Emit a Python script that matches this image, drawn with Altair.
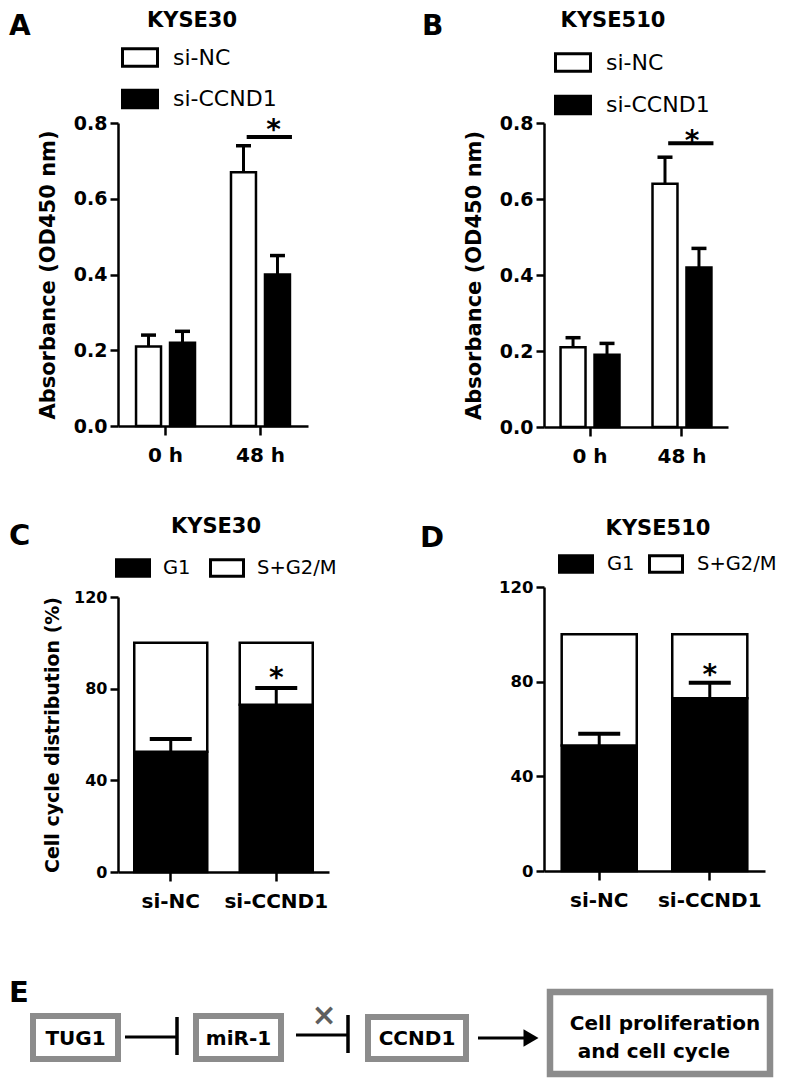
import altair as alt
import pandas as pd

# ---------------- data ----------------
times = ["0 h", "48 h"]
groups_ab = ["si-NC", "si-CCND1"]
a_nc = [0.21, 0.67]
a_nc_err = [0.03, 0.07]
a_cc = [0.22, 0.40]
a_cc_err = [0.03, 0.05]
b_nc = [0.21, 0.64]
b_nc_err = [0.025, 0.07]
b_cc = [0.19, 0.42]
b_cc_err = [0.03, 0.05]

cd_groups = ["si-NC", "si-CCND1"]
phases = ["G1", "S+G2/M"]
c_g1 = [52.5, 73.0]
c_g1_err = [5.5, 7.3]
d_g1 = [53.0, 73.0]
d_g1_err = [5.0, 6.5]
total_pct = 100

a_sig = [0.763]
a_star = [0.759]
b_sig = [0.747]
b_star = [0.729]
c_star = [80.7]
d_star = [79.0]

titles = ["KYSE30", "KYSE510"]
letters = ["A", "B", "C", "D", "E"]
nodes = ["TUG1", "miR-1", "CCND1"]
outcome = ["Cell proliferation", "and cell cycle"]
ab_ticks = [0, 0.2, 0.4, 0.6, 0.8]
cd_ticks = [0, 40, 80, 120]

# ---------------- layout ----------------
FONT = "DejaVu Sans"
W, H = 773, 1070
RECT = "M-1,-0.5H1V0.5H-1Z"


def absorb_df(nc, nce, cc, cce):
    rows = []
    for i, t in enumerate(times):
        rows.append(dict(time=t, group="si-NC", mean=nc[i], top=nc[i] + nce[i]))
        rows.append(dict(time=t, group="si-CCND1", mean=cc[i], top=cc[i] + cce[i]))
    return pd.DataFrame(rows)


def cd_df(g1, g1e):
    rows = []
    for i, g in enumerate(cd_groups):
        rows.append(dict(group=g, phase="G1", lo=0, hi=g1[i], err=g1[i] + g1e[i]))
        rows.append(dict(group=g, phase="S+G2/M", lo=g1[i], hi=total_pct, err=None))
    return pd.DataFrame(rows)


def y_axis(xleft, title, values, fmt, lsize, tsize, tpad):
    kw = dict(orient="left", offset=-xleft, values=values, format=fmt,
              labelFont=FONT, labelFontWeight="bold", labelFontSize=lsize,
              labelColor="black", labelPadding=3, tickSize=8, tickWidth=2.5,
              tickColor="black", domainColor="black", domainWidth=2.5,
              grid=False, titleFont=FONT, titleFontWeight="bold",
              titleFontSize=tsize, titleColor="black", titlePadding=tpad)
    kw["title"] = title if title else None
    return alt.Axis(**kw)


def x_axis(ybottom, lpad):
    return alt.Axis(orient="bottom", offset=ybottom - H, title=None, labelAngle=0,
                    labelFont=FONT, labelFontWeight="bold", labelFontSize=20,
                    labelColor="black", labelPadding=lpad, tickSize=9,
                    tickWidth=2.5, tickColor="black", domainColor="black",
                    domainWidth=2.5, grid=False)


def absorb_panel(df, xr, yr, pin, pout, legx, legy, rowpad, sig, star, star_dx):
    xsc = alt.Scale(domain=times, range=xr, paddingInner=pin, paddingOuter=pout)
    ysc = alt.Scale(domain=[0, 0.8], range=yr, nice=False)
    osc = alt.Scale(domain=groups_ab, paddingInner=0.265, paddingOuter=0)

    def X(axis=None, **kw):
        return alt.X("time:N", scale=xsc, sort=times, axis=axis, **kw)

    def XO():
        return alt.XOffset("group:N", scale=osc, sort=groups_ab)

    def Y(f, axis=None):
        return alt.Y(f, scale=ysc, axis=axis)

    base = alt.Chart(df)
    bars = base.mark_bar(stroke="black", strokeWidth=2.5).encode(
        x=X(axis=x_axis(yr[0], 10)),
        xOffset=XO(),
        y=Y("mean:Q", axis=y_axis(xr[0], "Absorbance (OD450 nm)", ab_ticks, ".1f", 19, 21, 15)),
        y2=alt.datum(0),
        fill=alt.Fill("group:N", sort=groups_ab,
                      scale=alt.Scale(domain=groups_ab, range=["white", "black"]),
                      legend=alt.Legend(orient="none", legendX=legx, legendY=legy,
                                        direction="vertical", title=None,
                                        symbolType=RECT, symbolSize=1225,
                                        symbolStrokeColor="black", symbolStrokeWidth=3,
                                        labelFont=FONT, labelFontSize=22,
                                        labelColor="black", labelOffset=14,
                                        rowPadding=rowpad, padding=0, labelLimit=300)),
    )
    err = base.mark_rule(color="black", strokeWidth=3).encode(
        x=X(), xOffset=XO(), y=Y("mean:Q"), y2="top:Q")
    caps = base.mark_tick(color="black", thickness=3.5, size=15, opacity=1).encode(
        x=X(), xOffset=XO(), y=Y("top:Q"))
    sdf = pd.DataFrame({"time": [times[1]], "sig": sig, "star": star})
    line = alt.Chart(sdf).mark_rule(color="black", strokeWidth=4, strokeCap="square").encode(
        x=X(bandPosition=0.3),
        x2=alt.X2("time:N", bandPosition=1.0),
        y=Y("sig:Q"),
    )
    st = alt.Chart(sdf).mark_text(text="*", font=FONT, fontWeight="bold",
                                  fontSize=28, color="black", dx=star_dx,
                                  baseline="alphabetic").encode(
        x=X(), y=Y("star:Q"))
    return [bars, err, caps, line, st]


def cd_panel(df, xr, yr, pin, pout, title, tlsize, legx, legy, colpad, laboff, star):
    xsc = alt.Scale(domain=cd_groups, range=xr, paddingInner=pin, paddingOuter=pout)
    ysc = alt.Scale(domain=[0, 120], range=yr, nice=False)

    def X(axis=None):
        return alt.X("group:N", scale=xsc, sort=cd_groups, axis=axis)

    def Y(f, axis=None):
        return alt.Y(f, scale=ysc, axis=axis)

    base = alt.Chart(df)
    bars = base.mark_bar(stroke="black", strokeWidth=2.5).encode(
        x=X(axis=x_axis(yr[0], 10)),
        y=Y("lo:Q", axis=y_axis(xr[0], title, cd_ticks, "d", tlsize, 19, 11)),
        y2="hi:Q",
        fill=alt.Fill("phase:N", sort=phases,
                      scale=alt.Scale(domain=phases, range=["black", "white"]),
                      legend=alt.Legend(orient="none", legendX=legx, legendY=legy,
                                        direction="horizontal", columns=2, title=None,
                                        symbolType=RECT, symbolSize=1089,
                                        symbolStrokeColor="black", symbolStrokeWidth=3,
                                        labelFont=FONT, labelFontSize=19.5,
                                        labelColor="black", labelOffset=laboff,
                                        columnPadding=colpad, padding=0, labelLimit=300)),
        order=alt.Order("lo:Q"),
    )
    edf = df[df["phase"] == "G1"]
    err = alt.Chart(edf).mark_rule(color="black", strokeWidth=3).encode(
        x=X(), y=Y("hi:Q"), y2="err:Q")
    caps = alt.Chart(edf).mark_tick(color="black", thickness=4, size=42, opacity=1).encode(
        x=X(), y=Y("err:Q"))
    sdf = pd.DataFrame({"group": [cd_groups[1]], "star": star})
    st = alt.Chart(sdf).mark_text(text="*", font=FONT, fontWeight="bold",
                                  fontSize=28, color="black",
                                  baseline="alphabetic").encode(
        x=X(), y=Y("star:Q"))
    return [bars, err, caps, st]


pA = absorb_panel(absorb_df(a_nc, a_nc_err, a_cc, a_cc_err),
                  [110, 300], [418, 115], 0.379, 0.19, 113, 30.5, 7.5, a_sig, a_star, 13)
pB = absorb_panel(absorb_df(b_nc, b_nc_err, b_cc, b_cc_err),
                  [536, 720], [419, 115], 0.359, 0.18, 546, 35.5, 8.5, b_sig, b_star, 10)
pC = cd_panel(cd_df(c_g1, c_g1_err), [110, 321], [864, 589], 0.308, 0.154,
              "Cell cycle distribution (%)", 16, 107, 541.5, 13, 12, c_star)
pD = cd_panel(cd_df(d_g1, d_g1_err), [536, 757], [863, 579], 0.321, 0.16,
              None, 16.5, 550, 537.5, 8, 13, d_star)

one = pd.DataFrame({"i": [0]})


def label(txt, x, y, size, weight="bold", align="center", color="black", baseline="alphabetic"):
    return alt.Chart(one).mark_text(font=FONT, fontSize=size, fontWeight=weight,
                                    align=align, baseline=baseline, color=color).encode(
        x=alt.value(x), y=alt.value(y), text=alt.value(txt))


def box(x1, x2, y1, y2, sw=6):
    return alt.Chart(one).mark_rect(fill="white", stroke="#8c8c8c", strokeWidth=sw).encode(
        x=alt.value(x1), x2=alt.value(x2), y=alt.value(y1), y2=alt.value(y2))


def hline(x1, x2, y, sw=3):
    return alt.Chart(one).mark_rule(color="black", strokeWidth=sw).encode(
        x=alt.value(x1), x2=alt.value(x2), y=alt.value(y))


def vline(x, y1, y2, sw=3.5):
    return alt.Chart(one).mark_rule(color="black", strokeWidth=sw).encode(
        x=alt.value(x), y=alt.value(y1), y2=alt.value(y2))


annot = [
    label(letters[0], 1, 27, 28, align="left"),
    label(letters[1], 414, 27, 28, align="left"),
    label(letters[2], 1, 537, 29, align="left"),
    label(letters[3], 412, 539, 29, align="left"),
    label(letters[4], 1, 994, 29, align="left"),
    label(titles[0], 184, 19, 21),
    label(titles[1], 605, 19, 21),
    label(titles[0], 208, 525, 21),
    label(titles[1], 650, 527, 21),
    # panel E diagram
    box(25, 110, 1008, 1051),
    box(188, 273, 1008, 1051),
    box(360, 458, 1009, 1051),
    box(542, 762, 984, 1066, 6.5),
    label(nodes[0], 67.5, 1037, 20),
    label(nodes[1], 230.5, 1037, 20),
    label(nodes[2], 409, 1037, 20),
    label(outcome[0], 657, 1022, 20),
    label(outcome[1], 646, 1050, 20),
    hline(117, 169, 1029),
    vline(169, 1009, 1047),
    hline(288, 340, 1027),
    vline(340, 1007, 1045),
    label("\u00d7", 316, 1008, 30, color="#5f5f5f", baseline="middle"),
    hline(470, 520, 1030),
    alt.Chart(one).mark_point(shape="triangle-right", filled=True, color="black",
                              size=300, opacity=1).encode(
        x=alt.value(523), y=alt.value(1030)),
]

chart = (
    alt.layer(*pA, *pB, *pC, *pD, *annot)
    .resolve_scale(x="independent", y="independent", fill="independent",
                   xOffset="independent")
    .resolve_axis(x="independent", y="independent")
    .resolve_legend(fill="independent")
    .properties(width=W, height=H, autosize=alt.AutoSizeParams(type="none"), padding=0,
                background="white")
    .configure_view(stroke=None)
)

chart.save("out.html", embed_options={"renderer": "svg", "actions": False})
